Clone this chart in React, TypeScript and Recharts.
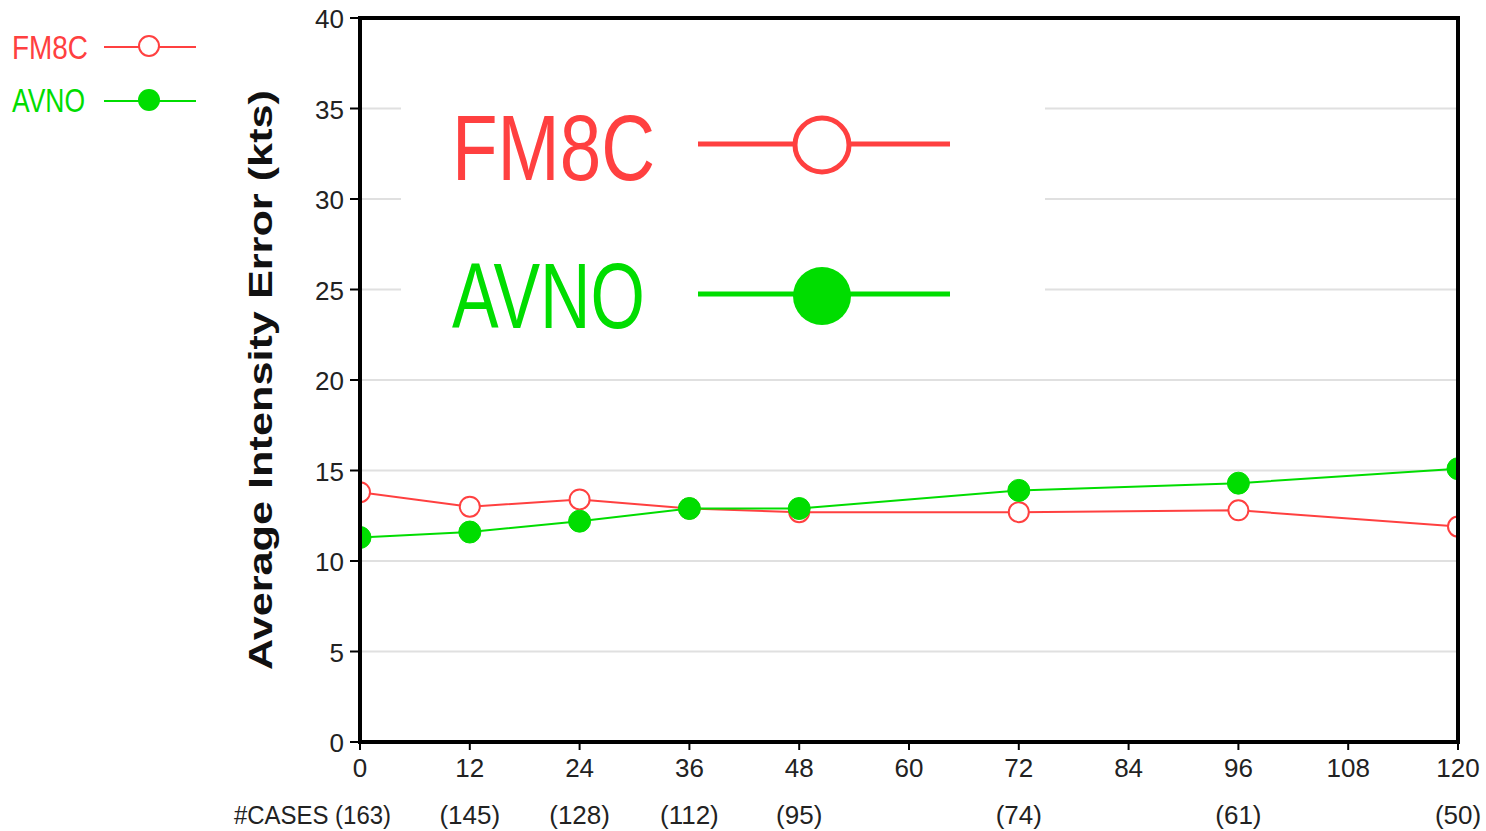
import { LineChart, Line, XAxis, YAxis, CartesianGrid } from 'recharts'

const RED = '#ff4040'
const GREEN = '#00dd00'
const FONT = "'Liberation Sans', 'DejaVu Sans', sans-serif"

const hours = [0, 12, 24, 36, 48, 72, 96, 120]
const cases = [163, 145, 128, 112, 95, 74, 61, 50]
const fm8c = [13.8, 13.0, 13.4, 12.9, 12.7, 12.7, 12.8, 11.9]
const avno = [11.3, 11.6, 12.2, 12.9, 12.9, 13.9, 14.3, 15.1]
const xTicks = [0, 12, 24, 36, 48, 60, 72, 84, 96, 108, 120]
const yTicks = [0, 5, 10, 15, 20, 25, 30, 35, 40]

const data = hours.map((h, i) => ({ h, FM8C: fm8c[i], AVNO: avno[i] }))

function XTick({ x, y, payload }: any) {
  const i = hours.indexOf(payload.value)
  return (
    <g fontFamily={FONT} fill="#222" fontSize={26}>
      <text x={x} y={y + 25} textAnchor="middle">{String(payload.value)}</text>
      {i > 0 && (
        <text x={x} y={y + 72} textAnchor="middle">{`(${cases[i]})`}</text>
      )}
      {i === 0 && (
        <text x={x + 31} y={y + 72} textAnchor="end" textLength={157} lengthAdjust="spacingAndGlyphs">
          {`#CASES (${cases[0]})`}
        </text>
      )}
    </g>
  )
}

function YTick({ x, y, payload }: any) {
  return (
    <text x={x} y={y + 10} textAnchor="end" fontFamily={FONT} fontSize={26} fill="#222">{String(payload.value)}</text>
  )
}

function Overlay() {
  return (
    <svg width={1486} height={831} style={{ position: 'absolute', left: 0, top: 0, pointerEvents: 'none' }}>
      {/* plot frame */}
      <rect x={360} y={18} width={1098} height={724} fill="none" stroke="#000" strokeWidth={4} />
      {/* big legend box */}
      <rect x={401} y={20} width={644} height={357} fill="#fff" />
      <g fontFamily={FONT}>
        <text x={452} y={180} fontSize={92} fill={RED} textLength={203} lengthAdjust="spacingAndGlyphs">FM8C</text>
        <line x1={698} x2={950} y1={144} y2={144} stroke={RED} strokeWidth={5} />
        <circle cx={822} cy={145} r={27} fill="#fff" stroke={RED} strokeWidth={5} />
        <text x={452} y={328} fontSize={92} fill={GREEN} textLength={193} lengthAdjust="spacingAndGlyphs">AVNO</text>
        <line x1={698} x2={950} y1={294} y2={294} stroke={GREEN} strokeWidth={5} />
        <circle cx={822} cy={296} r={29} fill={GREEN} />
        {/* small legend */}
        <text x={12} y={59} fontSize={34} fill={RED} textLength={76} lengthAdjust="spacingAndGlyphs">FM8C</text>
        <line x1={104} x2={196} y1={47} y2={47} stroke={RED} strokeWidth={2} />
        <circle cx={149} cy={46} r={10} fill="#fff" stroke={RED} strokeWidth={2} />
        <text x={12} y={112} fontSize={34} fill={GREEN} textLength={73} lengthAdjust="spacingAndGlyphs">AVNO</text>
        <line x1={104} x2={196} y1={101} y2={101} stroke={GREEN} strokeWidth={2} />
        <circle cx={149} cy={100} r={11} fill={GREEN} />
        {/* y axis title */}
        <text
          x={0} y={0} transform="translate(272,380) rotate(-90)" textAnchor="middle"
          fontSize={34} fontWeight="bold" fill="#111" textLength={580} lengthAdjust="spacingAndGlyphs"
        >Average Intensity Error (kts)</text>
      </g>
    </svg>
  )
}

export default function App() {
  return (
    <div style={{ position: 'absolute', left: 0, top: 0, width: 1486, height: 831, background: '#fff' }}>
      <LineChart width={1486} height={831} data={data} margin={{ top: 18, right: 28, left: 0, bottom: 0 }}>
        <CartesianGrid vertical={false} stroke="#e0e0e0" strokeWidth={2} />
        <XAxis
          dataKey="h" type="number" domain={[0, 120]} ticks={xTicks} allowDataOverflow
          height={89} axisLine={false} tickLine={{ stroke: '#000', strokeWidth: 2 }} tickSize={8}
          tick={<XTick />} interval={0}
        />
        <YAxis
          type="number" domain={[0, 40]} ticks={yTicks} allowDataOverflow
          width={360} axisLine={false} tickLine={{ stroke: '#000', strokeWidth: 2 }} tickSize={10}
          tickMargin={6} tick={<YTick />} interval={0}
        />
        <Line
          dataKey="FM8C" type="linear" stroke={RED} strokeWidth={2} isAnimationActive={false}
          dot={{ r: 10, fill: '#fff', stroke: RED, strokeWidth: 2 }}
        />
        <Line
          dataKey="AVNO" type="linear" stroke={GREEN} strokeWidth={2} isAnimationActive={false}
          dot={{ r: 11, fill: GREEN, stroke: GREEN, strokeWidth: 1 }}
        />
      </LineChart>
      <Overlay />
    </div>
  )
}
